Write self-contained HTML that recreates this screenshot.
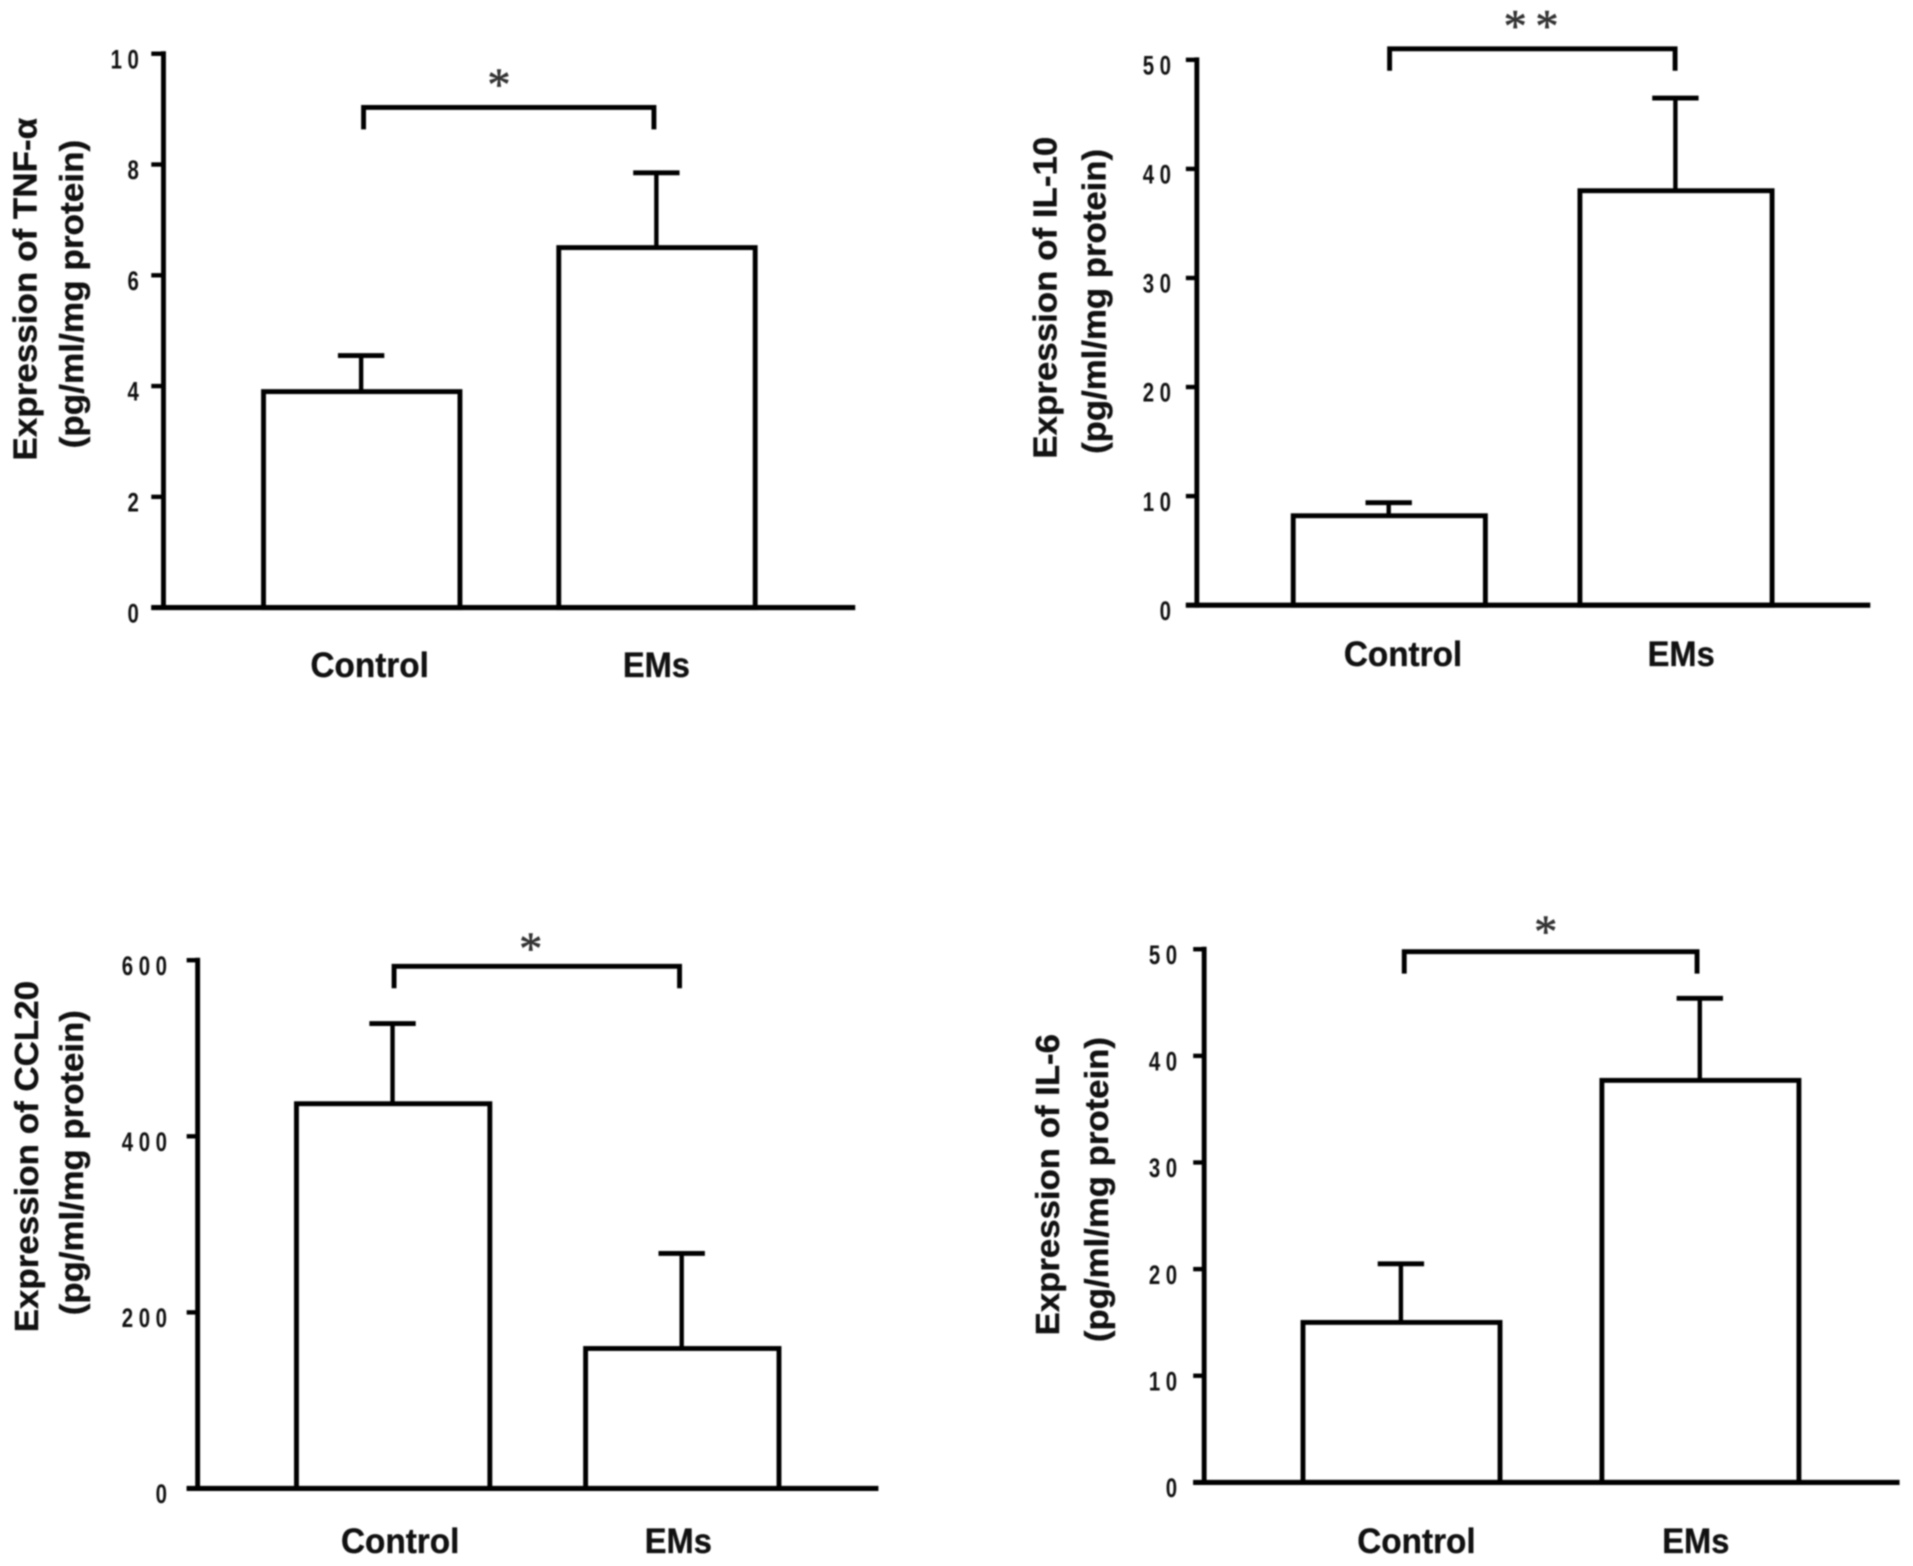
<!DOCTYPE html>
<html lang="en">
<head>
<meta charset="utf-8">
<title>Cytokine expression in Control and EMs groups</title>
<style>
  html, body { margin: 0; padding: 0; background: #fff; }
  #figure { display: block; width: 1913px; height: 1566px; filter: blur(0.7px); }
  text { font-family: "Liberation Sans", sans-serif; fill: #111; }
  .tick { font-weight: 700; font-size: 22px; letter-spacing: 6px; }
  .cat { font-weight: 700; font-size: 29px; text-anchor: middle; stroke: #111; stroke-width: 0.3px; }
  .title { font-weight: 700; font-size: 27px; text-anchor: middle; stroke: #111; stroke-width: 0.3px; }
  .star { font-family: "Liberation Serif", serif; font-weight: 400; font-size: 38px; fill: #333; text-anchor: middle; stroke: #333; stroke-width: 0.5px; }
</style>
</head>
<body>
<svg id="figure" xmlns="http://www.w3.org/2000/svg" width="1913" height="1566" viewBox="0 0 1568 1283.5"></svg>
<script>
const categories = ['Control', 'EMs'];

const tnfTicks = [0, 2, 4, 6, 8, 10];
const tnfValues = [3.9, 6.5];
const tnfErrors = [0.65, 1.35];

const il10Ticks = [0, 10, 20, 30, 40, 50];
const il10Values = [8.2, 38];
const il10Errors = [1.2, 8.5];

const ccl20Ticks = [0, 200, 400, 600];
const ccl20Values = [437, 159];
const ccl20Errors = [91, 108];

const il6Ticks = [0, 10, 20, 30, 40, 50];
const il6Values = [15, 37.7];
const il6Errors = [5.5, 7.7];

const panels = [
  { name: 'tnf-alpha', ticks: tnfTicks, values: tnfValues, errors: tnfErrors,
    layout: { axisX: 134, xEnd: 701, top: 44, bottom: 498, tickOut: 10, labelGap: 20,
      barStart: [216, 458], barW: 161, capHalf: 19, catX: [303, 538], catY: 555,
      bracket: [298, 536, 88, 106], stars: [[409, 82]],
      t1: 'Expression of TNF-α', t1x: 30, t1y: 237, t1len: 281,
      t2: '(pg/ml/mg protein)', t2x: 68, t2y: 241, t2len: 253 } },
  { name: 'il-10', ticks: il10Ticks, values: il10Values, errors: il10Errors,
    layout: { axisX: 981, xEnd: 1533, top: 49, bottom: 496, tickOut: 9, labelGap: 21,
      barStart: [1060, 1295], barW: 157.5, capHalf: 19, catX: [1150, 1378], catY: 546,
      bracket: [1139, 1373, 40, 58], stars: [[1242, 34], [1268, 34]],
      t1: 'Expression of IL-10', t1x: 866, t1y: 244, t1len: 264,
      t2: '(pg/ml/mg protein)', t2x: 906, t2y: 247, t2len: 250 } },
  { name: 'ccl20', ticks: ccl20Ticks, values: ccl20Values, errors: ccl20Errors,
    layout: { axisX: 162, xEnd: 720, top: 787, bottom: 1220, tickOut: 9, labelGap: 25,
      barStart: [243, 480], barW: 158.5, capHalf: 19, catX: [328, 556], catY: 1273,
      bracket: [323, 557, 792, 810], stars: [[435, 790]],
      t1: 'Expression of CCL20', t1x: 31, t1y: 948, t1len: 288,
      t2: '(pg/ml/mg protein)', t2x: 68, t2y: 953, t2len: 250 } },
  { name: 'il-6', ticks: il6Ticks, values: il6Values, errors: il6Errors,
    layout: { axisX: 987, xEnd: 1557, top: 778, bottom: 1215, tickOut: 9, labelGap: 22,
      barStart: [1068, 1313], barW: 161.5, capHalf: 19, catX: [1161, 1390], catY: 1273,
      bracket: [1151, 1391, 780, 798], stars: [[1267, 776]],
      t1: 'Expression of IL-6', t1x: 868, t1y: 971, t1len: 247,
      t2: '(pg/ml/mg protein)', t2x: 908, t2y: 975, t2len: 250 } }
];

const svg = document.getElementById('figure');
const NS = 'http://www.w3.org/2000/svg';

function make(parent, tag, attrs, content) {
  const el = document.createElementNS(NS, tag);
  for (const k in attrs) el.setAttribute(k, attrs[k]);
  if (content !== undefined) el.textContent = content;
  parent.appendChild(el);
  return el;
}

function yScale(panel) {
  const maxTick = panel.ticks[panel.ticks.length - 1];
  const L = panel.layout;
  return function (v) { return L.bottom - (v / maxTick) * (L.bottom - L.top); };
}

function drawPanel(panel) {
  const L = panel.layout;
  const y = yScale(panel);
  const ink = '#000';

  const g = make(svg, 'g', {});
  
  

  panel.values.forEach(function (v, i) {
    const left = L.barStart[i];
    const cx = left + L.barW / 2 - 0.5;
    const errTop = y(v + panel.errors[i]);

    const stem = make(g, 'line', { x1: cx, x2: cx, y1: y(v), y2: errTop, stroke: ink, 'stroke-width': 3.6 });
    
    

    const cap = make(g, 'line', { x1: cx - L.capHalf, x2: cx + L.capHalf, y1: errTop, y2: errTop, stroke: ink, 'stroke-width': 4 });
    
    

    const bar = make(g, 'rect', { x: left, y: y(v), width: L.barW, height: L.bottom - y(v), fill: '#fff', stroke: ink, 'stroke-width': 4 });
    
    

    const cat = make(g, 'text', { class: 'cat', x: L.catX[i], y: L.catY, textLength: categories[i] === 'EMs' ? 55 : 97, lengthAdjust: 'spacingAndGlyphs' }, categories[i]);
    
    
  });

  const yAxis = make(g, 'line', { x1: L.axisX, x2: L.axisX, y1: L.top - 2, y2: L.bottom + 2, stroke: ink, 'stroke-width': 4 });
  
  

  const xAxis = make(g, 'line', { x1: L.axisX - L.tickOut, x2: L.xEnd, y1: L.bottom, y2: L.bottom, stroke: ink, 'stroke-width': 4.2 });
  
  

  panel.ticks.forEach(function (t) {
    const ty = y(t);
    const mark = make(g, 'line', { x1: L.axisX - L.tickOut, x2: L.axisX, y1: ty, y2: ty, stroke: ink, 'stroke-width': 3.6 });
    
    

    const label = make(g, 'text', { class: 'tick', 'text-anchor': 'end', transform: 'translate(' + (L.axisX - L.labelGap + 4.4) + ',' + (ty + 12) + ') scale(0.76,1)' }, String(t));
    
    
  });

  const b = L.bracket;
  const bracket = make(g, 'path', { d: 'M' + b[0] + ' ' + b[3] + 'V' + b[2] + 'H' + b[1] + 'V' + b[3], fill: 'none', stroke: ink, 'stroke-width': 4 });
  
  

  L.stars.forEach(function (s) {
    const star = make(g, 'text', { class: 'star', x: s[0], y: s[1] }, '*');
    
    
  });

  const t1 = make(g, 'text', { class: 'title', transform: 'translate(' + L.t1x + ',' + L.t1y + ') rotate(-90)', textLength: L.t1len, lengthAdjust: 'spacingAndGlyphs' }, L.t1);
  
  

  const t2 = make(g, 'text', { class: 'title', transform: 'translate(' + L.t2x + ',' + L.t2y + ') rotate(-90)', textLength: L.t2len, lengthAdjust: 'spacingAndGlyphs' }, L.t2);
  
  
}

panels.forEach(drawPanel);
</script>
</body>
</html>
